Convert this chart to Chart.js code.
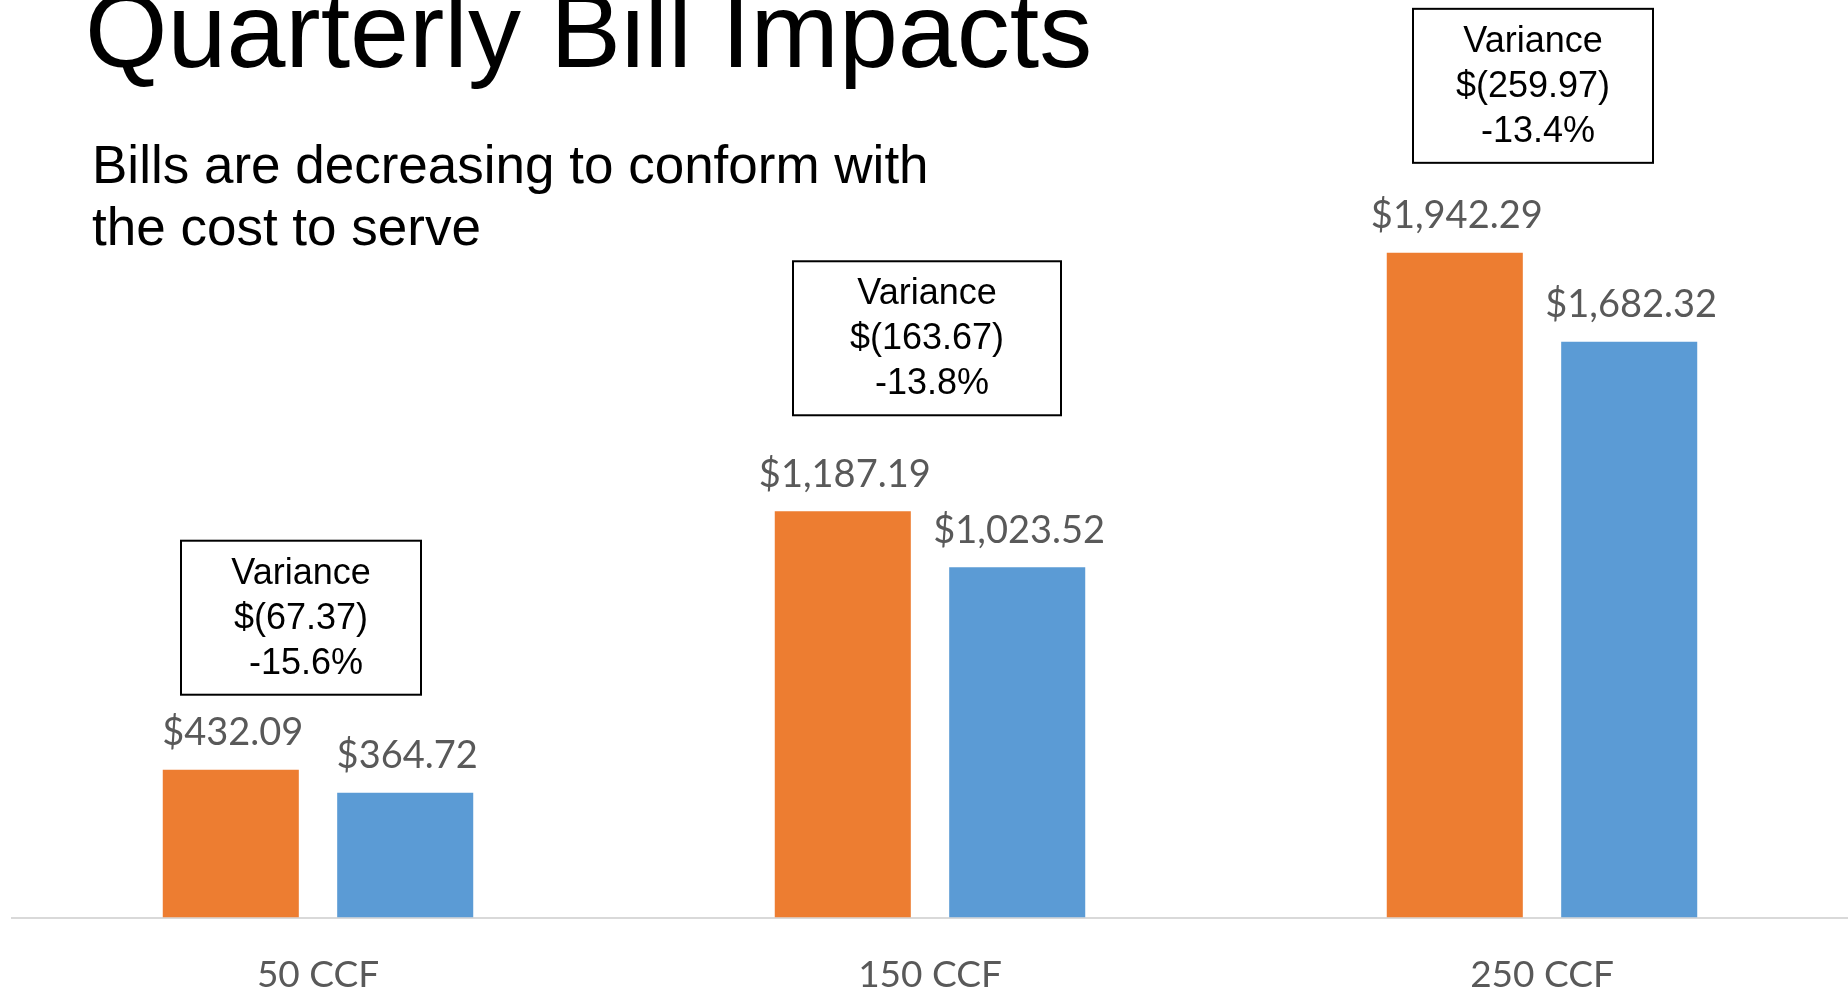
<!DOCTYPE html>
<html>
<head>
<meta charset="utf-8">
<title>Quarterly Bill Impacts</title>
<script src="https://cdn.jsdelivr.net/npm/chart.js@4/dist/chart.umd.min.js"></script>
<style>
  html, body { margin: 0; padding: 0; background: #fff; overflow: hidden; }
  #wrap { position: relative; width: 1848px; height: 994px; overflow: hidden; }
  #chart { position: absolute; left: 0; top: 0; }
  .title {
    position: absolute; left: 85px; top: -23px;
    font-family: "Liberation Sans", Arial, sans-serif;
    font-size: 106px; line-height: 106px; color: #000; white-space: nowrap;
  }
  .sub {
    position: absolute; left: 92px; top: 134px;
    font-family: "Liberation Sans", Arial, sans-serif;
    font-size: 53px; line-height: 62px; color: #000; white-space: nowrap;
  }
</style>
</head>
<body>
<div id="wrap">
  <!-- canvas a bit taller than the page so the axis line lands where the slide has it -->
  <canvas id="chart" width="1848" height="1032"></canvas>
  <div class="title">Quarterly Bill Impacts</div>
  <div class="sub">Bills are decreasing to conform with<br>the cost to serve</div>
</div>
<script>
const categories = ['50 CCF', '150 CCF', '250 CCF'];
const currentBill = [432.09, 1187.19, 1942.29];
const proposedBill = [364.72, 1023.52, 1682.32];

// where each variance box sits, relative to its category and the orange bar
const boxLayout = [
  { dx: -17, gap: 75, w: 240 },
  { dx: -3, gap: 96, w: 268 },
  { dx: -9, gap: 90, w: 240 },
];
const BOX_H = 154;

const money = v => '$' + v.toLocaleString('en-US', { minimumFractionDigits: 2, maximumFractionDigits: 2 });

const valueLabels = {
  id: 'valueLabels',
  afterDatasetsDraw(chart) {
    const ctx = chart.ctx;
    ctx.save();
    ctx.font = '38px Lato, "Open Sans", sans-serif';
    ctx.fillStyle = '#595959';
    ctx.textAlign = 'center';
    ctx.textBaseline = 'middle';
    chart.data.datasets.forEach((ds, di) => {
      chart.getDatasetMeta(di).data.forEach((bar, i) => {
        ctx.fillText(money(ds.data[i]), bar.x + 2, bar.y - 37);
      });
    });
    ctx.restore();
  }
};

const varianceBoxes = {
  id: 'varianceBoxes',
  afterDatasetsDraw(chart) {
    const ctx = chart.ctx;
    const xs = chart.scales.x;
    const bars = chart.getDatasetMeta(0).data;
    ctx.save();
    categories.forEach((c, i) => {
      const lay = boxLayout[i];
      const cx = xs.getPixelForValue(i) + lay.dx;
      const bottom = bars[i].y - lay.gap;
      const top = bottom - BOX_H;
      ctx.fillStyle = '#fff';
      ctx.fillRect(cx - lay.w / 2, top, lay.w, BOX_H);
      ctx.strokeStyle = '#000';
      ctx.lineWidth = 2;
      ctx.strokeRect(cx - lay.w / 2, top, lay.w, BOX_H);

      const diff = proposedBill[i] - currentBill[i];
      const pct = diff / currentBill[i] * 100;
      const lines = ['Variance', '$(' + Math.abs(diff).toFixed(2) + ')', ' ' + pct.toFixed(1) + '%'];
      ctx.fillStyle = '#000';
      ctx.font = '36px "Liberation Sans", Arial, sans-serif';
      ctx.textAlign = 'center';
      ctx.textBaseline = 'middle';
      lines.forEach((t, k) => ctx.fillText(t, cx, top + 33 + k * 45));
    });
    ctx.restore();
  }
};

new Chart(document.getElementById('chart'), {
  type: 'bar',
  data: {
    labels: categories,
    datasets: [
      { label: 'Current', data: currentBill, backgroundColor: '#ED7D31' },
      { label: 'Proposed', data: proposedBill, backgroundColor: '#5B9BD5' },
    ],
  },
  options: {
    responsive: false,
    animation: false,
    categoryPercentage: 0.57,
    barPercentage: 0.78,
    layout: { padding: { left: 12, right: 0, top: 0, bottom: 0 } },
    plugins: {
      legend: { display: false },
      tooltip: { enabled: false },
    },
    scales: {
      x: {
        grid: { display: false, drawTicks: false },
        border: { display: true, color: '#d9d9d9', width: 2 },
        ticks: {
          color: '#595959',
          padding: 35,
          font: { size: 37, family: 'Lato, "Open Sans", sans-serif' },
        },
      },
      y: {
        display: false,
        min: 0,
        max: 2681,
      },
    },
  },
  plugins: [valueLabels, varianceBoxes],
});
</script>
</body>
</html>
